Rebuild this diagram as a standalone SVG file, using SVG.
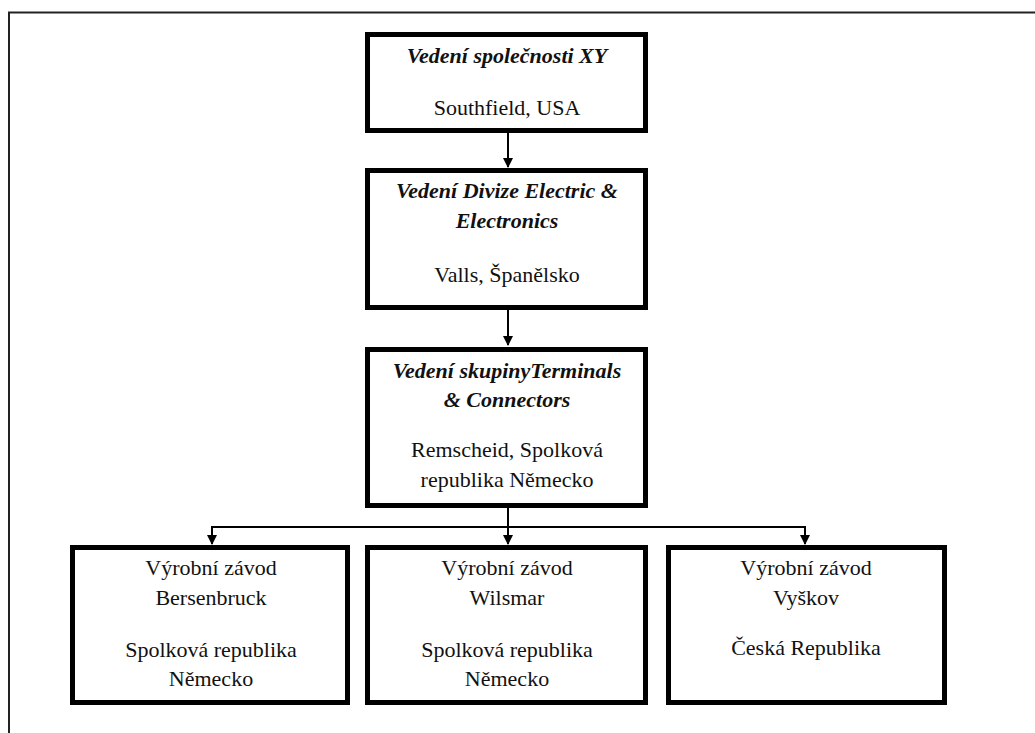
<svg xmlns="http://www.w3.org/2000/svg" width="1035" height="733" viewBox="0 0 1035 733">
  <style>
    .box { fill: #ffffff; stroke: #000000; stroke-width: 5; }
    .t { font-family: "Liberation Serif", "Times New Roman", serif; font-size: 22px; fill: #111111; text-anchor: middle; }
    .h { font-style: italic; font-weight: bold; }
    .wire { fill: none; stroke: #000000; stroke-width: 2; }
  </style>
  <defs>
    <marker id="arrow" markerWidth="10" markerHeight="10" refX="9" refY="5" orient="auto" markerUnits="userSpaceOnUse">
      <path d="M0,0 L10,5 L0,10 Z" fill="#000000"/>
    </marker>
  </defs>

  <rect width="1035" height="733" fill="#ffffff"/>

  <!-- page frame -->
  <path d="M9,733 V12.5 H1035" fill="none" stroke="#222222" stroke-width="2"/>

  <!-- connectors -->
  <g id="connectors">
    <line class="wire" x1="508" y1="133" x2="508" y2="167" marker-end="url(#arrow)"/>
    <line class="wire" x1="508" y1="310" x2="508" y2="345" marker-end="url(#arrow)"/>
    <line class="wire" x1="508" y1="508" x2="508" y2="544" marker-end="url(#arrow)"/>
    <path class="wire" d="M212,544 V527 H805 V544" marker-end="url(#arrow)"/>
    <line class="wire" x1="212" y1="530" x2="212" y2="544" marker-end="url(#arrow)"/>
  </g>

  <g id="node-xy">
    <rect class="box" x="367.5" y="34.5" width="278" height="96"/>
    <text class="t h" x="507" y="63">Vedení společnosti XY</text>
    <text class="t" x="507" y="115">Southfield, USA</text>
  </g>

  <g id="node-divize">
    <rect class="box" x="367.5" y="170.5" width="278" height="137"/>
    <text class="t h" x="507" y="198">Vedení Divize Electric &amp;</text>
    <text class="t h" x="507" y="228">Electronics</text>
    <text class="t" x="507" y="282">Valls, Španělsko</text>
  </g>

  <g id="node-skupina">
    <rect class="box" x="367.5" y="349.5" width="278" height="156"/>
    <text class="t h" x="507" y="378">Vedení skupinyTerminals</text>
    <text class="t h" x="507" y="407">&amp; Connectors</text>
    <text class="t" x="507" y="457">Remscheid, Spolková</text>
    <text class="t" x="507" y="487">republika Německo</text>
  </g>

  <g id="node-bersenbruck">
    <rect class="box" x="72.5" y="547.5" width="275" height="155"/>
    <text class="t" x="211" y="575">Výrobní závod</text>
    <text class="t" x="211" y="605">Bersenbruck</text>
    <text class="t" x="211" y="657">Spolková republika</text>
    <text class="t" x="211" y="686">Německo</text>
  </g>

  <g id="node-wilsmar">
    <rect class="box" x="367.5" y="547.5" width="278" height="155"/>
    <text class="t" x="507" y="575">Výrobní závod</text>
    <text class="t" x="507" y="605">Wilsmar</text>
    <text class="t" x="507" y="657">Spolková republika</text>
    <text class="t" x="507" y="686">Německo</text>
  </g>

  <g id="node-vyskov">
    <rect class="box" x="668.5" y="547.5" width="276" height="155"/>
    <text class="t" x="806" y="575">Výrobní závod</text>
    <text class="t" x="806" y="605">Vyškov</text>
    <text class="t" x="806" y="655">Česká Republika</text>
  </g>
</svg>
